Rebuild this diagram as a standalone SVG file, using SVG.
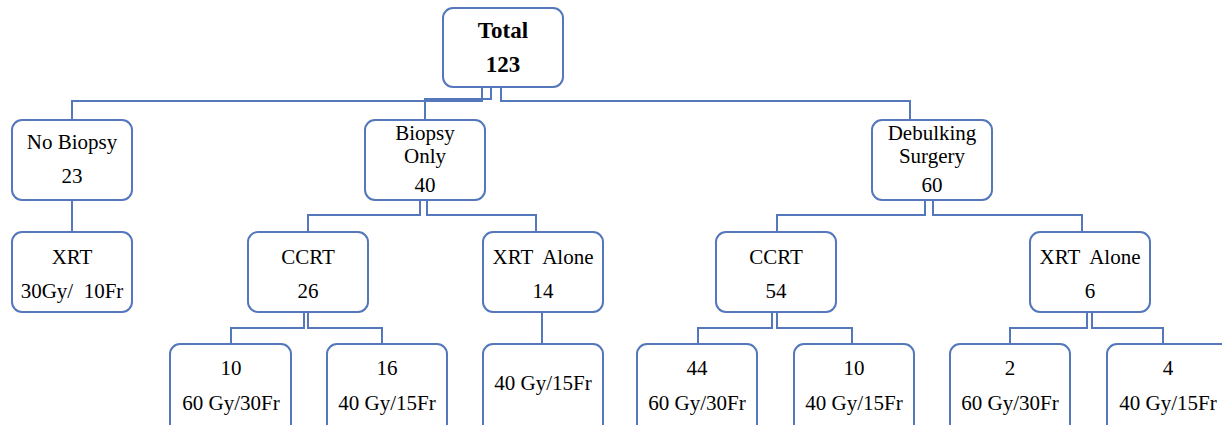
<svg xmlns="http://www.w3.org/2000/svg" width="1222" height="425" viewBox="0 0 1222 425">
<style>
.box{fill:#fff;stroke:#5577bb;stroke-width:2}
.c{fill:none;stroke:#5577bb;stroke-width:2}
text{font-family:"Liberation Serif","Times New Roman",serif;font-size:21px;fill:#000;text-anchor:middle;white-space:pre}
.b{font-weight:bold;font-size:23px}
</style>
<rect width="1222" height="425" fill="#fff"/>
<g id="connectors">
<path class="c" d="M482,87 V101 H72 V120"/>
<path class="c" d="M491,87 V99 H425 V120"/>
<path class="c" d="M501,87 V101 H910 V120"/>
<path class="c" d="M72,200 V232"/>
<path class="c" d="M420,200 V215 H308 V232"/>
<path class="c" d="M427,200 V215 H536 V232"/>
<path class="c" d="M925,200 V215 H777 V232"/>
<path class="c" d="M933,200 V215 H1082 V232"/>
<path class="c" d="M304,312 V328 H231 V344"/>
<path class="c" d="M308,312 V328 H382 V344"/>
<path class="c" d="M542,312 V344"/>
<path class="c" d="M772,312 V328 H698 V344"/>
<path class="c" d="M777,312 V328 H852 V344"/>
<path class="c" d="M1087,312 V328 H1010 V344"/>
<path class="c" d="M1092,312 V328 H1163 V344"/>
</g>
<g id="total"><rect class="box" x="443" y="8" width="120" height="79" rx="10"/><text class="b" x="503" y="38">Total</text><text class="b" x="503" y="72">123</text></g>
<g id="nobiopsy"><rect class="box" x="12" y="120" width="120" height="80" rx="10"/><text x="72" y="149">No Biopsy</text><text x="72" y="183">23</text></g>
<g id="biopsyonly"><rect class="box" x="365" y="120" width="120" height="80" rx="10"/><text x="425" y="140">Biopsy</text><text x="425" y="163">Only</text><text x="425" y="192">40</text></g>
<g id="debulking"><rect class="box" x="872" y="120" width="120" height="80" rx="10"/><text x="932" y="140">Debulking</text><text x="932" y="163">Surgery</text><text x="932" y="192">60</text></g>
<g id="xrt"><rect class="box" x="12" y="232" width="120" height="80" rx="10"/><text x="72" y="264">XRT</text><text x="72" y="298">30Gy/  10Fr</text></g>
<g id="ccrt26"><rect class="box" x="248" y="232" width="120" height="80" rx="10"/><text x="308" y="264">CCRT</text><text x="308" y="298">26</text></g>
<g id="xrtalone14"><rect class="box" x="483" y="232" width="120" height="80" rx="10"/><text x="543" y="264">XRT  Alone</text><text x="543" y="298">14</text></g>
<g id="ccrt54"><rect class="box" x="716" y="232" width="120" height="80" rx="10"/><text x="776" y="264">CCRT</text><text x="776" y="298">54</text></g>
<g id="xrtalone6"><rect class="box" x="1030" y="232" width="120" height="80" rx="10"/><text x="1090" y="264">XRT  Alone</text><text x="1090" y="298">6</text></g>
<g id="b10a"><rect class="box" x="170" y="344" width="121" height="90" rx="10"/><text x="231" y="375">10</text><text x="231" y="410">60 Gy/30Fr</text></g>
<g id="b16"><rect class="box" x="327" y="344" width="120" height="90" rx="10"/><text x="387" y="375">16</text><text x="387" y="410">40 Gy/15Fr</text></g>
<g id="b40"><rect class="box" x="483" y="344" width="120" height="90" rx="10"/><text x="543" y="390">40 Gy/15Fr</text></g>
<g id="b44"><rect class="box" x="637" y="344" width="120" height="90" rx="10"/><text x="697" y="375">44</text><text x="697" y="410">60 Gy/30Fr</text></g>
<g id="b10b"><rect class="box" x="794" y="344" width="120" height="90" rx="10"/><text x="854" y="375">10</text><text x="854" y="410">40 Gy/15Fr</text></g>
<g id="b2"><rect class="box" x="950" y="344" width="120" height="90" rx="10"/><text x="1010" y="375">2</text><text x="1010" y="410">60 Gy/30Fr</text></g>
<g id="b4"><rect class="box" x="1107" y="344" width="124" height="90" rx="10"/><text x="1168" y="375">4</text><text x="1168" y="410">40 Gy/15Fr</text></g>
</svg>
